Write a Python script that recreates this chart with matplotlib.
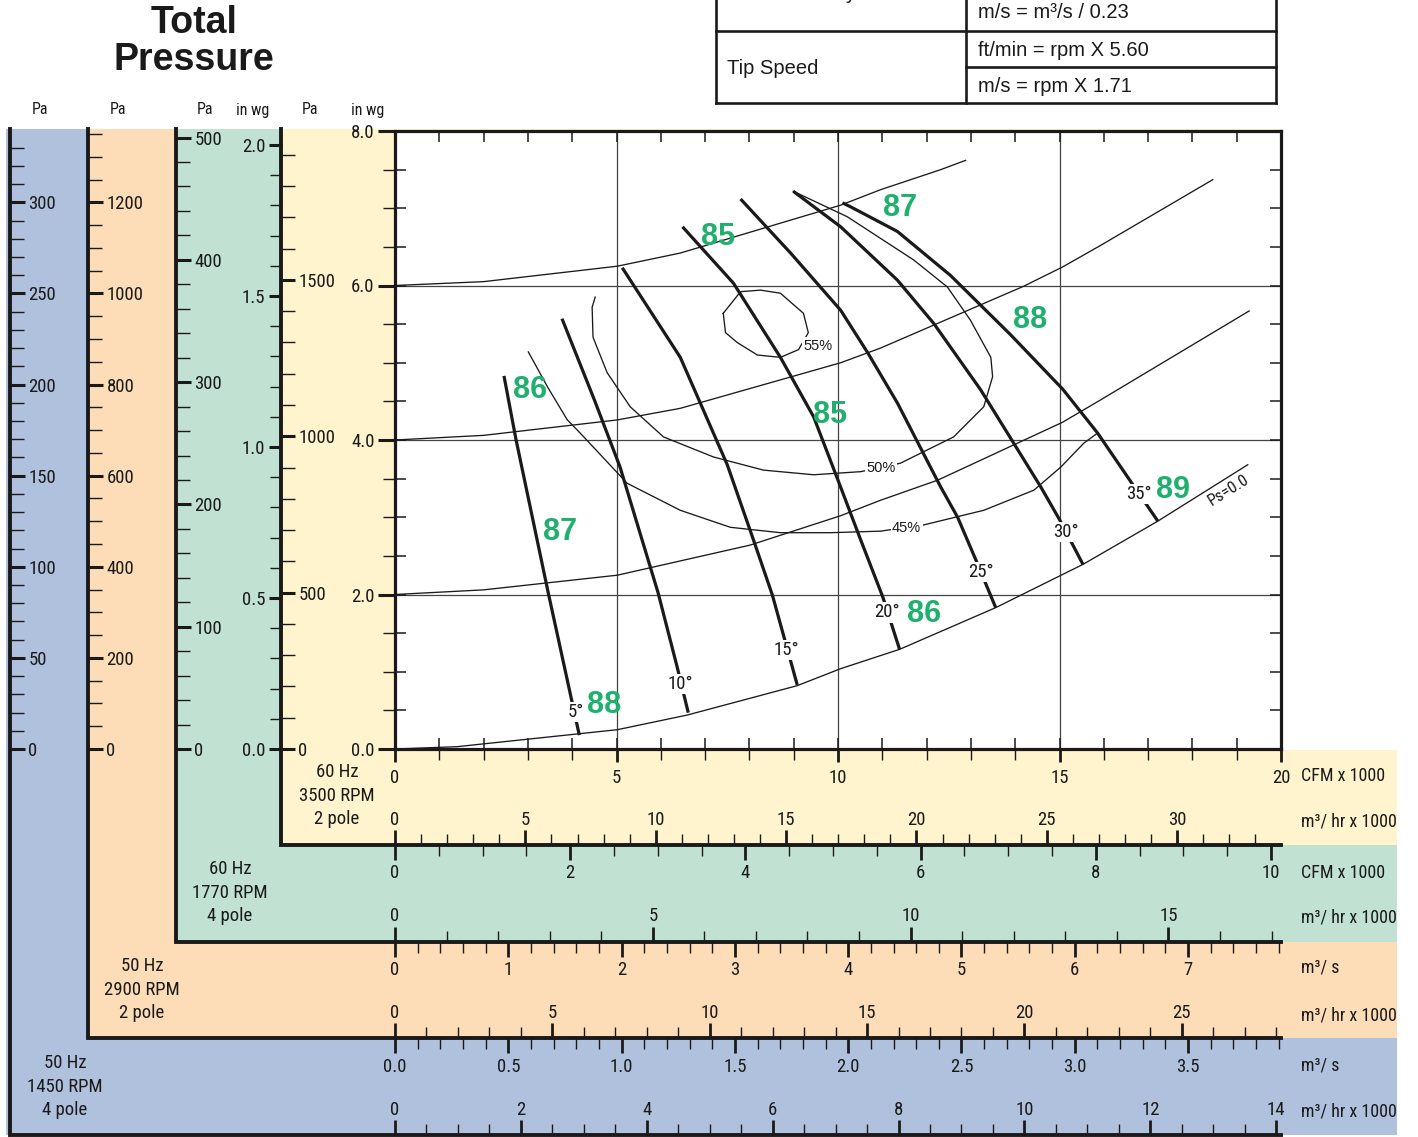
import matplotlib
matplotlib.use("Agg")
import matplotlib.pyplot as plt
from matplotlib import font_manager
from matplotlib.patches import Rectangle
from matplotlib.ticker import MultipleLocator, FormatStrFormatter

installed = {f.name for f in font_manager.fontManager.ttflist}
narrow = "Liberation Sans"
for cand in ["Liberation Sans Narrow", "Roboto Condensed", "Open Sans Condensed"]:
    if cand in installed:
        narrow = cand
        break
plain = "Liberation Sans"
plt.rcParams["font.family"] = [narrow, "DejaVu Sans"]

# ---- chart values (CFM x1000 at 3500 rpm vs total pressure, in wg) ----
cfm_max = 20.0
inwg_max = 8.0
pa_per_inwg = 247.0
m3hr_per_cfm = 1.699
m3s_per_cfm = 0.4719
base_rpm = 3500

sys_a_x = [0.0, 2.0, 5.02, 6.44, 10.06, 10.96, 12.32, 12.88]
sys_a_y = [6.00, 6.05, 6.25, 6.42, 7.04, 7.24, 7.50, 7.62]
sys_b_x = [0.0, 2.0, 5.02, 6.44, 10.06, 10.96, 14.19, 15.07, 15.93, 18.46]
sys_b_y = [4.00, 4.06, 4.26, 4.41, 5.00, 5.19, 5.99, 6.24, 6.52, 7.37]
sys_c_x = [0.0, 2.0, 5.02, 8.02, 10.06, 10.96, 12.25, 15.07, 15.93, 19.28]
sys_c_y = [2.00, 2.06, 2.25, 2.64, 3.02, 3.22, 3.48, 4.23, 4.52, 5.67]
ps0_x = [0.0, 1.40, 5.02, 6.60, 9.08, 10.06, 11.39, 13.56, 15.53, 17.22, 19.25]
ps0_y = [0.00, 0.03, 0.25, 0.44, 0.82, 1.04, 1.29, 1.83, 2.39, 2.95, 3.68]

blade_labels = ["5°", "10°", "15°", "20°", "25°", "30°", "35°"]
blade_x = [
    [2.46, 2.73, 3.46, 4.16],
    [3.77, 4.50, 5.08, 5.94, 6.37, 6.62],
    [5.13, 6.44, 6.89, 7.50, 8.09, 8.52, 9.08],
    [6.49, 7.64, 8.70, 9.45, 10.00, 10.51, 11.01, 11.39],
    [7.80, 8.93, 10.06, 10.67, 11.34, 12.32, 12.70, 13.11, 13.56],
    [8.99, 10.06, 11.34, 12.16, 13.22, 14.58, 15.01, 15.53],
    [10.10, 10.28, 11.34, 12.54, 13.90, 15.07, 15.86, 16.61, 17.22],
]
blade_y = [
    [4.83, 4.01, 2.02, 0.18],
    [5.57, 4.52, 3.65, 2.02, 1.06, 0.47],
    [6.23, 5.07, 4.48, 3.68, 2.71, 1.99, 0.83],
    [6.76, 6.03, 5.07, 4.30, 3.48, 2.71, 1.97, 1.29],
    [7.12, 6.42, 5.68, 5.13, 4.48, 3.39, 3.00, 2.45, 1.83],
    [7.22, 6.76, 6.07, 5.51, 4.65, 3.39, 2.96, 2.39],
    [7.07, 7.02, 6.70, 6.13, 5.36, 4.66, 4.09, 3.46, 2.95],
]
blade_lab_x = [4.09, 6.44, 8.84, 11.10, 13.22, 15.14, 16.79]
blade_lab_y = [0.48, 0.84, 1.28, 1.77, 2.29, 2.81, 3.30]

eff55_x = [7.41, 7.80, 8.25, 8.70, 9.22, 9.33, 9.11, 8.70, 8.18, 7.73, 7.46, 7.41]
eff55_y = [5.64, 5.92, 5.94, 5.90, 5.64, 5.39, 5.17, 5.07, 5.10, 5.26, 5.39, 5.64]
eff50_x = [4.52, 4.45, 4.47, 4.79, 5.31, 6.06, 7.19, 8.32, 9.45, 10.51, 11.41, 12.61,
           13.29, 13.49, 13.45, 12.99, 12.47, 11.71, 10.21, 8.99]
eff50_y = [5.85, 5.72, 5.33, 4.87, 4.43, 4.04, 3.78, 3.61, 3.55, 3.59, 3.70, 4.04,
           4.43, 4.82, 5.07, 5.55, 5.98, 6.33, 6.89, 7.22]
eff45_x = [3.01, 3.44, 3.89, 4.18, 5.24, 6.44, 7.57, 8.70, 9.83, 10.96, 11.93, 13.29,
           14.42, 15.03, 15.55, 15.86]
eff45_y = [5.14, 4.69, 4.26, 4.09, 3.44, 3.09, 2.87, 2.80, 2.80, 2.82, 2.90, 3.09,
           3.35, 3.65, 3.96, 4.09]
eff_labels = ["55%", "50%", "45%"]
eff_lab_x = [9.56, 10.98, 11.55]
eff_lab_y = [5.22, 3.64, 2.86]

noise_labels = ["87", "85", "88", "86", "85", "87", "89", "86", "88"]
noise_x = [11.41, 7.30, 14.33, 3.05, 9.83, 3.73, 17.56, 11.95, 4.72]
noise_y = [7.00, 6.63, 5.55, 4.65, 4.32, 2.81, 3.35, 1.75, 0.57]

# fan speeds of the auxiliary scales
rpm_blue, rpm_orange, rpm_green = 1450, 2900, 1770

# ---- layout (pixels) ----
W, H = 1418, 1137
X0, X1 = 395, 1281
Y0, Y1 = 749, 131
blue_c, orange_c, green_c, yellow_c = "#b0c1de", "#fddcb8", "#c1e2d2", "#fff4cd"
green_txt = "#1fb06e"
ink = "#1a1a1a"
PT = 1 / 1.389

fig = plt.figure(figsize=(W / 100, H / 100), dpi=100)
bg = fig.add_axes([0, 0, 1, 1], zorder=0)
bg.set_xlim(0, W)
bg.set_ylim(H, 0)
bg.axis("off")

bands = [(6, 1135, blue_c), (88, 1038, orange_c), (176, 942, green_c), (281, 845, yellow_c)]
for xl, yb, c in bands:
    bg.add_patch(Rectangle((xl, 129), 1397 - xl, yb - 129, facecolor=c, edgecolor="none"))
bg.add_patch(Rectangle((1283, 0), 200, Y0 + 0.5, facecolor="white", edgecolor="none"))
for xl, yb in [(10, 1135), (88, 1038), (176, 942), (281, 845)]:
    bg.plot([xl, xl, X1], [129, yb, yb], color=ink, lw=2.8, solid_joinstyle="miter")

# title and headers
bg.text(194, 23, "Total", ha="center", va="center", fontsize=27, fontweight="bold",
        family=plain, color=ink)
bg.text(194, 60, "Pressure", ha="center", va="center", fontsize=27, fontweight="bold",
        family=plain, color=ink)
for hx, ht in [(40, "Pa"), (118, "Pa"), (205, "Pa"), (253, "in wg"), (310, "Pa"), (368, "in wg")]:
    bg.text(hx, 110, ht, ha="center", va="center", fontsize=11.5, color=ink)

# table
for xs, ys in [([716, 716], [-20, 103]), ([966, 966], [-20, 103]), ([1276, 1276], [-20, 103]),
               ([716, 1276], [31, 31]), ([966, 1276], [67, 67]), ([716, 1276], [103, 103])]:
    bg.plot(xs, ys, color=ink, lw=1.9)
bg.text(727, -1, "Outlet Velocity", ha="left", va="baseline", fontsize=14.5, family=plain, color=ink)
bg.text(727, 68, "Tip Speed", ha="left", va="center", fontsize=14.5, family=plain, color=ink)
bg.text(978, 13, "m/s = m³/s / 0.23", ha="left", va="center", fontsize=14.5, family=plain, color=ink)
bg.text(978, 50, "ft/min = rpm X 5.60", ha="left", va="center", fontsize=14.5, family=plain, color=ink)
bg.text(978, 86, "m/s = rpm X 1.71", ha="left", va="center", fontsize=14.5, family=plain, color=ink)

# speed labels
speed_txt = [(337, 772, ["60 Hz", "3500 RPM", "2 pole"]), (230, 869, ["60 Hz", "1770 RPM", "4 pole"]),
             (142, 966, ["50 Hz", "2900 RPM", "2 pole"]), (65, 1063, ["50 Hz", "1450 RPM", "4 pole"])]
for sx, sy, lines in speed_txt:
    for i, t in enumerate(lines):
        bg.text(sx, sy + i * 23.7, t, ha="center", va="center", fontsize=13.5, color=ink)

units = [(776, "CFM x 1000"), (822, "m³/ hr x 1000"), (873, "CFM x 1000"), (918, "m³/ hr x 1000"),
         (968, "m³/ s"), (1015, "m³/ hr x 1000"), (1065, "m³/ s"), (1112, "m³/ hr x 1000")]
for uy, ut in units:
    bg.text(1301, uy, ut, ha="left", va="center", fontsize=13, color=ink)

# ---- main plot ----
ax = fig.add_axes([X0 / W, 1 - Y0 / H, (X1 - X0) / W, (Y0 - Y1) / H], zorder=2)
ax.set_xlim(0, cfm_max)
ax.set_ylim(0, inwg_max)
ax.xaxis.set_major_locator(MultipleLocator(5))
ax.xaxis.set_minor_locator(MultipleLocator(1))
ax.yaxis.set_major_locator(MultipleLocator(2))
ax.yaxis.set_minor_locator(MultipleLocator(0.5))
ax.tick_params(which="both", direction="in", top=True, right=True, length=11 * PT,
               width=1.1, colors=ink, labelbottom=False, labelleft=False)
ax.grid(True, which="major", color="#444444", lw=0.9)
for s in ax.spines.values():
    s.set_linewidth(2.3)
    s.set_color(ink)

thin = dict(color=ink, lw=0.95)
for xs, ys in [(sys_a_x, sys_a_y), (sys_b_x, sys_b_y), (sys_c_x, sys_c_y), (ps0_x, ps0_y),
               (eff55_x, eff55_y), (eff50_x, eff50_y), (eff45_x, eff45_y)]:
    ax.plot(xs, ys, **thin)
for xs, ys in zip(blade_x, blade_y):
    ax.plot(xs, ys, color=ink, lw=2.3, solid_capstyle="butt", solid_joinstyle="round")

wb = dict(facecolor="white", edgecolor="none", pad=1.0)
for t, x, y in zip(blade_labels, blade_lab_x, blade_lab_y):
    ax.text(x, y, t, ha="center", va="center", fontsize=13.5, color=ink, bbox=wb, zorder=5)
for t, x, y in zip(eff_labels, eff_lab_x, eff_lab_y):
    ax.text(x, y, t, ha="center", va="center", fontsize=10.5, family=plain,
            color=ink, bbox=wb, zorder=5)
for t, x, y in zip(noise_labels, noise_x, noise_y):
    ax.text(x, y, t, ha="center", va="center", fontsize=22, fontweight="bold", family=plain,
            color=green_txt, zorder=6)
ax.text(18.82, 3.35, "Ps=0.0", ha="center", va="center", rotation=32, fontsize=12, color=ink)


# ---- auxiliary scales ----
def vscale(xpx, top, major, minor, side, fmt, maj_len=15, min_len=14, pad=2.5):
    a = fig.add_axes([xpx / W, 1 - Y0 / H, 1e-6, (Y0 - Y1) / H], zorder=3)
    a.set_ylim(0, top)
    a.set_xticks([])
    a.patch.set_visible(False)
    for s in a.spines.values():
        s.set_visible(False)
    a.yaxis.set_major_locator(MultipleLocator(major))
    a.yaxis.set_minor_locator(MultipleLocator(minor))
    a.yaxis.set_major_formatter(FormatStrFormatter(fmt))
    if side == "right":
        a.yaxis.tick_right()
    a.tick_params(axis="y", which="major", direction="out", length=maj_len * PT, width=2.2,
                  labelsize=13.5, pad=pad, colors=ink)
    a.tick_params(axis="y", which="minor", direction="out", length=min_len * PT, width=1.0,
                  colors=ink)
    return a


def hscale(ypx, top, major, minor, side, fmt, pad, maj_len=15, min_len=11):
    a = fig.add_axes([X0 / W, 1 - ypx / H, (X1 - X0) / W, 1e-6], zorder=3)
    a.set_xlim(0, top)
    a.set_yticks([])
    a.patch.set_visible(False)
    for s in a.spines.values():
        s.set_visible(False)
    a.xaxis.set_major_locator(MultipleLocator(major))
    a.xaxis.set_minor_locator(MultipleLocator(minor))
    a.xaxis.set_major_formatter(FormatStrFormatter(fmt))
    if side == "top":
        a.xaxis.tick_top()
    a.tick_params(axis="x", which="major", direction="out", length=maj_len * PT, width=2.0,
                  labelsize=13.5, pad=pad, colors=ink)
    a.tick_params(axis="x", which="minor", direction="out", length=min_len * PT, width=1.0,
                  colors=ink)
    return a


def pa_top(rpm):
    return inwg_max * pa_per_inwg * (rpm / base_rpm) ** 2


def cfm_top(rpm):
    return cfm_max * rpm / base_rpm


vscale(10, pa_top(rpm_blue), 50, 10, "right", "%d")
vscale(88, pa_top(rpm_orange), 200, 50, "right", "%d")
vscale(176, pa_top(rpm_green), 100, 20, "right", "%d")
vscale(282, inwg_max * (rpm_green / base_rpm) ** 2, 0.5, 0.1, "left", "%.1f", maj_len=13, min_len=12)
vscale(282, pa_top(base_rpm), 500, 100, "right", "%d", maj_len=13, min_len=13)
vscale(X0, inwg_max, 2, 0.5, "left", "%.1f", maj_len=17, min_len=12)

hscale(Y0, cfm_max, 5, 1, "bottom", "%d", pad=5, maj_len=13, min_len=11)
hscale(845, cfm_max * m3hr_per_cfm, 5, 1, "top", "%d", pad=1)
hscale(845, cfm_top(rpm_green), 2, 0.5, "bottom", "%d", pad=3)
hscale(942, cfm_top(rpm_green) * m3hr_per_cfm, 5, 1, "top", "%d", pad=1.5)
hscale(942, cfm_top(rpm_orange) * m3s_per_cfm, 1, 0.2, "bottom", "%d", pad=3)
hscale(1038, cfm_top(rpm_orange) * m3s_per_cfm * 3.6, 5, 1, "top", "%d", pad=1)
hscale(1038, cfm_top(rpm_blue) * m3s_per_cfm, 0.5, 0.1, "bottom", "%.1f", pad=3.5)
hscale(1135, cfm_top(rpm_blue) * m3s_per_cfm * 3.6, 2, 0.5, "top", "%d", pad=1)

fig.savefig("out.png", dpi=100)
